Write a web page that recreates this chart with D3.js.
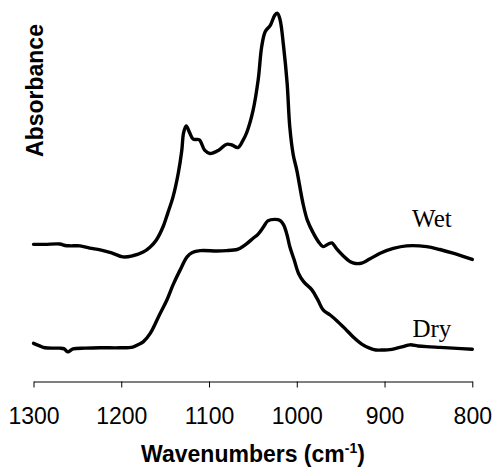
<!DOCTYPE html>
<html>
<head>
<meta charset="utf-8">
<script src="https://cdn.jsdelivr.net/npm/d3@7"></script>
<style>
  html, body { margin: 0; padding: 0; background: #fff; }
  svg { display: block; }
</style>
</head>
<body>
<div id="chart"></div>
<script>
// Wavenumbers (cm^-1) and relative absorbance (arbitrary units, 0-100 scale)
const wetWavenumbers = [1300,1287,1270,1264,1258,1247,1236,1224,1211,1198,1187,1175,1167,1160,1152,1147,1141,1135,1131,1129,1126,1122,1118,1111,1105,1099,1089,1080,1074,1067,1061,1057,1050,1044,1040,1036,1030,1025,1022,1019,1015,1011,1008,1004,1000,993,988,981,974,970,964,960,955,948,939,933,926,917,905,890,875,852,837,822,800];
const wetAbsorbance = [37.4,37.4,37.5,37.1,37.0,37.0,36.4,35.9,35.1,34.0,34.3,35.3,36.7,38.6,42.4,45.9,50.3,56.8,63.0,67.7,69.6,67.7,66.0,65.8,63.0,62.1,63.0,64.6,64.4,63.7,65.8,67.8,73.6,82.1,91.1,95.2,97.0,99.7,100.2,98.4,91.1,81.2,69.4,61.7,57.6,48.6,44.0,40.4,37.7,36.8,37.5,37.8,36.3,34.5,32.7,32.2,32.3,33.4,35.0,36.3,37.0,36.8,36.0,35.0,33.3];

const dryWavenumbers = [1300,1293,1287,1276,1270,1265,1261,1255,1241,1224,1201,1187,1181,1175,1167,1156,1148,1141,1133,1125,1119,1110,1091,1080,1068,1065,1058,1050,1044,1038,1033,1025,1019,1015,1011,1008,1003,998,992,983,976,970,962,955,945,936,926,917,910,901,894,886,879,871,862,852,837,822,800];
const dryAbsorbance = [10.5,9.8,9.3,9.2,9.2,9.0,8.2,9.0,9.2,9.3,9.3,9.5,10.1,10.9,13.2,18.5,22.3,26.4,30.4,34.0,35.2,35.7,35.6,35.7,36.0,36.3,37.4,39.0,40.2,42.1,43.8,44.2,43.9,42.7,39.9,36.8,33.2,29.5,27.2,25.1,22.3,19.6,18.2,16.8,14.5,12.3,10.3,9.2,8.7,8.7,8.8,9.2,9.6,10.1,9.8,9.6,9.4,9.2,8.9];

const xTicks = [1300, 1200, 1100, 1000, 900, 800];
const seriesLabels = ["Wet", "Dry"];
const labelWavenumber = 846;
const labelAbsorbance = [42.1, 12.2];

const W = 493, H = 467;
const svg = d3.select("#chart").append("svg").attr("width", W).attr("height", H);

const x = d3.scaleLinear().domain([1300, 800]).range([33.5, 472.3]);
const y = d3.scaleLinear().domain([0, 100]).range([382, 14]);

const sans = "Arial, 'Liberation Sans', Helvetica, sans-serif";
const serif = "'Times New Roman', 'Liberation Serif', Times, serif";

// x axis
const axis = svg.append("g")
  .attr("transform", "translate(0,381.5)")
  .call(d3.axisBottom(x).tickValues(xTicks).tickSize(6).tickSizeOuter(0).tickFormat(d3.format("d")));
axis.select(".domain").attr("stroke", "#000").attr("stroke-width", 1);
axis.selectAll(".tick line").attr("stroke", "#000").attr("stroke-width", 1);
axis.selectAll(".tick text")
  .attr("dy", null).attr("y", 42.5)
  .attr("fill", "#000")
  .style("font-family", sans).style("font-size", "23px");

// curves
const line = d3.line()
  .x(d => x(d[0])).y(d => y(d[1]))
  .curve(d3.curveCatmullRom.alpha(0.5));

const wet = wetWavenumbers.map((w, i) => [w, wetAbsorbance[i]]);
const dry = dryWavenumbers.map((w, i) => [w, dryAbsorbance[i]]);

[wet, dry].forEach(data => {
  svg.append("path").datum(data)
    .attr("d", line)
    .attr("fill", "none")
    .attr("stroke", "#000")
    .attr("stroke-width", 3.4)
    .attr("stroke-linejoin", "round")
    .attr("stroke-linecap", "round");
});

// series labels
seriesLabels.forEach((lab, i) => {
  svg.append("text")
    .attr("x", x(labelWavenumber))
    .attr("y", y(labelAbsorbance[i]))
    .attr("text-anchor", "middle")
    .style("font-family", serif).style("font-size", "25px")
    .attr("fill", "#000")
    .text(lab);
});

// x title
const xt = svg.append("text")
  .attr("x", 253).attr("y", 462)
  .attr("text-anchor", "middle")
  .style("font-family", sans).style("font-size", "23px").style("font-weight", "bold")
  .attr("fill", "#000");
xt.append("tspan").text("Wavenumbers (cm");
xt.append("tspan").attr("dy", -9).style("font-size", "14px").text("-1");
xt.append("tspan").attr("dy", 9).text(")");

// y title
svg.append("text")
  .attr("transform", "translate(42.5,90.5) rotate(-90)")
  .attr("text-anchor", "middle")
  .style("font-family", sans).style("font-size", "23px").style("font-weight", "bold")
  .attr("fill", "#000")
  .text("Absorbance");
</script>
</body>
</html>
